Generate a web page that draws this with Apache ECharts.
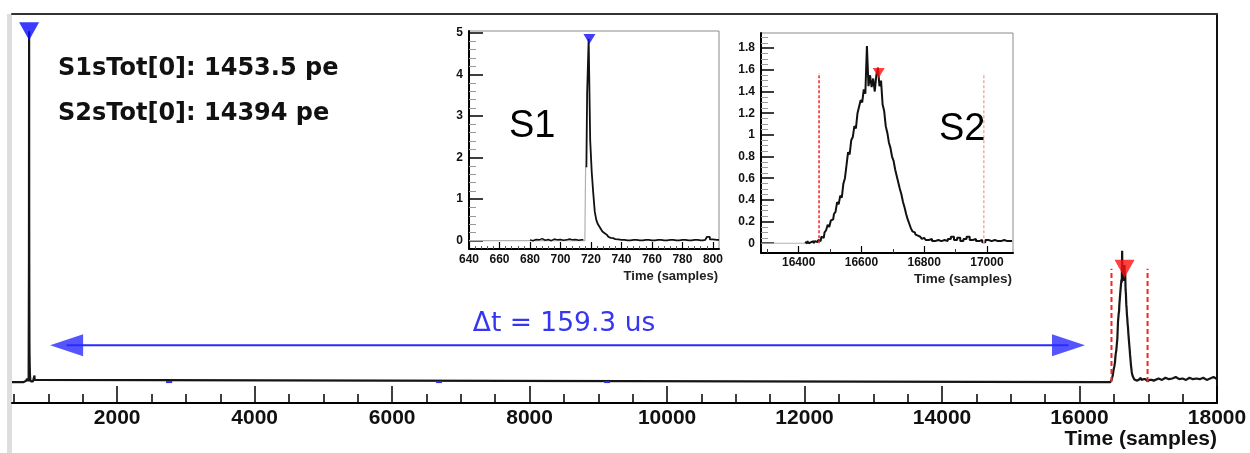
<!DOCTYPE html>
<html><head><meta charset="utf-8">
<script src="https://cdn.jsdelivr.net/npm/echarts@6/dist/echarts.min.js"></script>
<style>html,body{margin:0;padding:0;background:#fff;}#c{width:1250px;height:453px;}</style>
</head><body><div id="c"></div>
<script>
// ---------------- data ----------------
const mainRange = [470, 18000];
const mainYRange = [-0.29, 5.1];
const mainMajorTicks = [2000, 4000, 6000, 8000, 10000, 12000, 14000, 16000, 18000];
const mainMinorTicks = [500, 1000, 1500, 2500, 3000, 3500, 4500, 5000, 5500, 6500, 7000, 7500, 8500, 9000, 9500, 10500, 11000, 11500, 12500, 13000, 13500, 14500, 15000, 15500, 16500, 17000, 17500];

const s1Range = [640, 804];
const s1YRange = [-0.2, 5.05];
const s1XTicks = [640, 660, 680, 700, 720, 740, 760, 780, 800];
const s1XMinor = [644, 648, 652, 656, 664, 668, 672, 676, 684, 688, 692, 696, 704, 708, 712, 716, 724, 728, 732, 736, 744, 748, 752, 756, 764, 768, 772, 776, 784, 788, 792, 796];
const s1YTicks = [0, 1, 2, 3, 4, 5];
const s1YMinor = [0.2, 0.4, 0.6, 0.8, 1.2, 1.4, 1.6, 1.8, 2.2, 2.4, 2.6, 2.8, 3.2, 3.4, 3.6, 3.8, 4.2, 4.4, 4.6, 4.8];

const s2Range = [16280, 17083];
const s2YRange = [-0.09, 1.94];
const s2XTicks = [16400, 16600, 16800, 17000];
const s2XMinor = [16300, 16500, 16700, 16900];
const s2YTicks = [0, 0.2, 0.4, 0.6, 0.8, 1, 1.2, 1.4, 1.6, 1.8];
const s2YMinor = [0.05, 0.1, 0.15, 0.25, 0.3, 0.35, 0.45, 0.5, 0.55, 0.65, 0.7, 0.75, 0.85, 0.9, 0.95, 1.05, 1.1, 1.15, 1.25, 1.3, 1.35, 1.45, 1.5, 1.55, 1.65, 1.7, 1.75, 1.85, 1.9];

// S1 waveform (samples, pe)
const leadTimes = [470, 640];
const leadValues = [0, 0];
const s1BaseTimes = [640, 716, 717];
const s1BaseValues = [0, 0, 1.77];
const s1NoiseTimes = [680, 682, 684, 686, 688, 690, 692, 694, 696, 698, 700, 702, 704, 706, 708, 710, 712, 714, 715];
const s1NoiseValues = [0.02, 0.00, 0.03, 0.02, 0.05, 0.01, 0.03, 0.00, 0.04, 0.02, 0.03, 0.01, 0.02, 0.04, 0.02, 0.03, 0.01, 0.02, 0.02];
const s1PulseTimes = [717, 718, 719, 720, 721, 722, 723, 724, 725, 726, 727, 728, 729, 730, 731, 732, 733, 734, 735, 736, 738, 740, 744, 748, 752, 756, 760, 764, 768, 772, 776, 780, 784, 788, 792, 795, 797, 799, 801, 804];
const s1PulseValues = [1.77, 3.56, 4.86, 2.42, 1.66, 1.15, 0.70, 0.50, 0.40, 0.34, 0.28, 0.22, 0.18, 0.14, 0.11, 0.09, 0.07, 0.06, 0.05, 0.04, 0.03, 0.02, 0.01, 0.02, 0.01, 0.02, 0.01, 0.02, 0.01, 0.02, 0.01, 0.02, 0.01, 0.02, 0.01, 0.02, 0.09, 0.03, 0.02, 0.02];
const s1PeakTime = 719;
const s1PeakValue = 4.86;

// S2 waveform
const s2BaseTimes = [16280, 16420];
const s2BaseValues = [0, 0];
const s2Times = [16420, 16425, 16430, 16435, 16440, 16445, 16450, 16455, 16460, 16465,
  16470, 16475, 16480, 16485, 16490, 16495, 16500, 16505, 16510, 16515,
  16520, 16525, 16530, 16535, 16540, 16545, 16550, 16555, 16560, 16565,
  16570, 16575, 16580, 16585, 16590, 16595, 16600, 16605, 16610, 16615,
  16620, 16625, 16630, 16635, 16640, 16645, 16650, 16655, 16660, 16665,
  16670, 16675, 16680, 16685, 16690, 16695, 16700, 16705, 16710, 16715,
  16720, 16725, 16730, 16735, 16740, 16745, 16750, 16755, 16760, 16765,
  16770, 16775, 16780, 16785, 16790, 16795, 16800,
  16810, 16820, 16830, 16840, 16850, 16860, 16870, 16880, 16890, 16900,
  16910, 16920, 16930, 16940, 16950, 16960, 16970, 16980, 16990, 17000,
  17010, 17020, 17030, 17040, 17050, 17060, 17070, 17080];
const s2Values = [0.01, 0.00, 0.02, 0.00, 0.01, 0.02, 0.00, 0.02, 0.01, 0.03,
  0.02, 0.06, 0.05, 0.10, 0.12, 0.17, 0.15, 0.21, 0.22, 0.27,
  0.29, 0.38, 0.36, 0.44, 0.42, 0.55, 0.60, 0.72, 0.84, 0.82,
  0.95, 0.98, 1.08, 1.06, 1.20, 1.26, 1.32, 1.30, 1.42, 1.38,
  1.82, 1.45, 1.55, 1.44, 1.52, 1.40, 1.55, 1.62, 1.45, 1.50,
  1.28, 1.22, 1.08, 1.02, 0.93, 0.88, 0.80, 0.76, 0.68, 0.62,
  0.56, 0.50, 0.45, 0.38, 0.33, 0.27, 0.22, 0.18, 0.14, 0.11,
  0.10, 0.08, 0.07, 0.06, 0.07, 0.04, 0.05,
  0.03, 0.04, 0.02, 0.03, 0.02, 0.03, 0.02, 0.04, 0.06, 0.03,
  0.05, 0.02, 0.04, 0.06, 0.03, 0.04, 0.02, 0.03, 0.01, 0.03,
  0.02, 0.03, 0.02, 0.02, 0.03, 0.02, 0.02, 0.02];
const s2PeakTime = 16655;
const s2PeakValue = 1.57;
const s2WindowTimes = [16465, 16990];

// tail after S2 (main view only)
const tailTimes = [17100, 17150, 17200, 17250, 17300, 17350, 17400, 17450, 17500, 17550, 17600, 17650, 17700, 17750, 17800, 17850, 17900, 17950, 18000];
const tailValues = [0.04, 0.05, 0.03, 0.06, 0.04, 0.05, 0.07, 0.04, 0.05, 0.03, 0.06, 0.04, 0.05, 0.04, 0.06, 0.03, 0.05, 0.07, 0.04];

// small blue flagged segments on the baseline
const blueMarkStarts = [2710, 6640, 9085];
const blueMarkEnds = [2800, 6725, 9170];

// delta-t arrow (data space, arrowhead centres)
const arrowFrom = 1265;
const arrowTo = 15840;
const arrowLevel = 0.51;

// ---------------- chart ----------------
const pairs = (t, v) => t.map((x, i) => [x, v[i]]);
const F = 'Liberation Sans';
const fmt = v => String(+(+v).toFixed(2));
function ax(o) {
  return Object.assign({type: 'value', splitLine: {show: false}, axisLine: {show: false, onZero: false},
    axisTick: {show: false}, axisLabel: {show: false}, axisPointer: {show: false}}, o);
}
const blackLine = {show: true, onZero: false, lineStyle: {color: '#000', width: 2}};
const lbl = (vals, size, margin) => ({show: true, customValues: vals, formatter: fmt, margin: margin,
  fontSize: size, fontWeight: 'bold', fontFamily: F, color: '#111'});
const tick = (vals, len, color, w) => ({show: true, inside: true, length: len, customValues: vals,
  lineStyle: {color: color, width: w}});

const mainWave = [].concat(pairs(leadTimes, leadValues), pairs(s1NoiseTimes, s1NoiseValues),
  pairs(s1PulseTimes, s1PulseValues), pairs(s2BaseTimes, s2BaseValues), pairs(s2Times, s2Values),
  pairs(tailTimes, tailValues));

const BLUE = '#2a2aff';
const series = [];
const common = {symbol: 'none', silent: true, animation: false, emphasis: {disabled: true}};

// main
series.push(Object.assign({type: 'line', xAxisIndex: 0, yAxisIndex: 0, data: mainWave,
  lineStyle: {color: '#151515', width: 2.2}, z: 3}, common));
blueMarkStarts.forEach((s, i) => {
  series.push(Object.assign({type: 'line', xAxisIndex: 0, yAxisIndex: 0, data: [[s, 0], [blueMarkEnds[i], 0]],
    lineStyle: {color: BLUE, width: 2}, z: 4}, common));
});
// arrow shaft + heads
series.push(Object.assign({type: 'line', xAxisIndex: 0, yAxisIndex: 0, data: [[arrowFrom, arrowLevel], [arrowTo, arrowLevel]],
  lineStyle: {color: BLUE, width: 2}, z: 4}, common));
series.push({type: 'scatter', xAxisIndex: 0, yAxisIndex: 0, data: [[arrowFrom, arrowLevel]], symbol: 'triangle',
  symbolRotate: 90, symbolSize: [22, 33], itemStyle: {color: BLUE}, silent: true, animation: false, z: 5});
series.push({type: 'scatter', xAxisIndex: 0, yAxisIndex: 0, data: [[arrowTo, arrowLevel]], symbol: 'triangle',
  symbolRotate: -90, symbolSize: [22, 33], itemStyle: {color: BLUE}, silent: true, animation: false, z: 5});
s2WindowTimes.forEach(t => {
  series.push(Object.assign({type: 'line', xAxisIndex: 0, yAxisIndex: 0, data: [[t, 0], [t, s2PeakValue]],
    lineStyle: {color: '#ff2020', width: 2, type: [5, 3]}, z: 5}, common));
});
series.push({type: 'scatter', xAxisIndex: 0, yAxisIndex: 0, data: [[s1PeakTime, s1PeakValue]], symbol: 'triangle',
  symbolRotate: 180, symbolSize: [20, 18], itemStyle: {color: '#0a0aff'}, silent: true, animation: false, z: 6});
series.push({type: 'scatter', xAxisIndex: 0, yAxisIndex: 0, data: [[s2PeakTime, s2PeakValue]], symbol: 'triangle',
  symbolRotate: 180, symbolSize: [20, 18], itemStyle: {color: '#ff1010'}, silent: true, animation: false, z: 6});

// S1 inset
series.push(Object.assign({type: 'line', xAxisIndex: 3, yAxisIndex: 1, data: pairs(s1BaseTimes, s1BaseValues), step: 'middle',
  lineStyle: {color: '#b0b0b0', width: 1.2}, z: 3}, common));
series.push(Object.assign({type: 'line', xAxisIndex: 3, yAxisIndex: 1, data: pairs(s1NoiseTimes, s1NoiseValues), step: 'middle',
  lineStyle: {color: '#111', width: 1.5}, z: 4}, common));
series.push(Object.assign({type: 'line', xAxisIndex: 3, yAxisIndex: 1, data: pairs(s1PulseTimes, s1PulseValues), step: 'middle',
  lineStyle: {color: '#111', width: 1.8}, z: 4}, common));
series.push({type: 'scatter', xAxisIndex: 3, yAxisIndex: 1, data: [[s1PeakTime, s1PeakValue]], symbol: 'triangle',
  symbolRotate: 180, symbolSize: [12, 10], itemStyle: {color: '#1010ee'}, silent: true, animation: false, z: 6});

// S2 inset
series.push(Object.assign({type: 'line', xAxisIndex: 5, yAxisIndex: 3, data: pairs(s2BaseTimes, s2BaseValues),
  lineStyle: {color: '#b0b0b0', width: 1.2}, z: 3}, common));
series.push(Object.assign({type: 'line', xAxisIndex: 5, yAxisIndex: 3, data: pairs(s2Times, s2Values), step: 'middle',
  lineStyle: {color: '#111', width: 2}, z: 4}, common));
series.push(Object.assign({type: 'line', xAxisIndex: 5, yAxisIndex: 3, data: [[s2WindowTimes[0], 0], [s2WindowTimes[0], s2PeakValue]],
  lineStyle: {color: '#ff2020', width: 1.5, type: [3, 2]}, z: 5}, common));
series.push(Object.assign({type: 'line', xAxisIndex: 5, yAxisIndex: 3, data: [[s2WindowTimes[1], 0], [s2WindowTimes[1], s2PeakValue]],
  lineStyle: {color: '#f7a8a8', width: 1.5, type: [3, 2]}, z: 5}, common));
series.push({type: 'scatter', xAxisIndex: 5, yAxisIndex: 3, data: [[s2PeakTime, s2PeakValue]], symbol: 'triangle',
  symbolRotate: 180, symbolSize: [12, 10], itemStyle: {color: '#ff1010'}, silent: true, animation: false, z: 6});

const txt = (x, y, text, size, weight, family, color, align) => ({type: 'text', x: x, y: y, silent: true, z: 10,
  style: {text: text, fontSize: size, fontWeight: weight, fontFamily: family, fill: color,
    align: align || 'left', verticalAlign: 'middle', textAlign: align || 'left', textVerticalAlign: 'middle'}});

const option = {
  animation: false,
  backgroundColor: '#ffffff',
  grid: [
    {left: 12, top: 14, right: 33, bottom: 50, containLabel: false, outerBoundsMode: 'none'},
    {left: 469, top: 31, width: 250, height: 218, show: true, backgroundColor: '#fff', borderColor: '#8a8a8a', borderWidth: 1, containLabel: false, outerBoundsMode: 'none'},
    {left: 761, top: 33, width: 252, height: 220, show: true, backgroundColor: '#fff', borderColor: '#8a8a8a', borderWidth: 1, containLabel: false, outerBoundsMode: 'none'}
  ],
  xAxis: [
    ax({gridIndex: 0, min: mainRange[0], max: mainRange[1], position: 'bottom', axisLine: blackLine,
      axisTick: tick(mainMajorTicks, 17, '#000', 1.5), axisLabel: lbl(mainMajorTicks, 21, 5)}),
    ax({gridIndex: 0, min: mainRange[0], max: mainRange[1], position: 'bottom', axisTick: tick(mainMinorTicks, 9, '#000', 1.5)}),
    ax({gridIndex: 0, min: mainRange[0], max: mainRange[1], position: 'top',
      axisLine: {show: true, onZero: false, lineStyle: {color: '#333', width: 2}}}),
    ax({gridIndex: 1, min: s1Range[0], max: s1Range[1], position: 'bottom', axisLine: blackLine,
      axisTick: tick(s1XTicks, 7, '#000', 1.2), axisLabel: lbl(s1XTicks, 12, 5)}),
    ax({gridIndex: 1, min: s1Range[0], max: s1Range[1], position: 'bottom', axisTick: tick(s1XMinor, 3, '#555', 1)}),
    ax({gridIndex: 2, min: s2Range[0], max: s2Range[1], position: 'bottom', axisLine: blackLine,
      axisTick: tick(s2XTicks, 7, '#000', 1.2), axisLabel: lbl(s2XTicks, 12, 4)}),
    ax({gridIndex: 2, min: s2Range[0], max: s2Range[1], position: 'bottom', axisTick: tick(s2XMinor, 4, '#333', 1)})
  ],
  yAxis: [
    ax({gridIndex: 0, min: mainYRange[0], max: mainYRange[1], position: 'right',
      axisLine: {show: true, onZero: false, lineStyle: {color: '#111', width: 2}}}),
    ax({gridIndex: 1, min: s1YRange[0], max: s1YRange[1], position: 'left', axisLine: blackLine,
      axisTick: tick(s1YTicks, 14, '#000', 1.5), axisLabel: lbl(s1YTicks, 12, 6)}),
    ax({gridIndex: 1, min: s1YRange[0], max: s1YRange[1], position: 'left', axisTick: tick(s1YMinor, 7, '#9a9a9a', 1)}),
    ax({gridIndex: 2, min: s2YRange[0], max: s2YRange[1], position: 'left', axisLine: blackLine,
      axisTick: tick(s2YTicks, 13, '#000', 1.5), axisLabel: lbl(s2YTicks, 12, 6)}),
    ax({gridIndex: 2, min: s2YRange[0], max: s2YRange[1], position: 'left', axisTick: tick(s2YMinor, 7, '#9a9a9a', 1)})
  ],
  graphic: [
    {type: 'rect', silent: true, z: -1, shape: {x: 7, y: 14, width: 5, height: 439}, style: {fill: '#dedede'}},
    txt(58, 69, 'S1sTot[0]: 1453.5 pe', 24, 'bold', 'DejaVu Sans', '#111'),
    txt(58, 114, 'S2sTot[0]: 14394 pe', 24, 'bold', 'DejaVu Sans', '#111'),
    txt(564, 324, '\u0394t = 159.3 us', 26.5, 'normal', 'DejaVu Sans', '#3636f0', 'center'),
    txt(509, 127, 'S1', 38, 'normal', F, '#000'),
    txt(939, 130, 'S2', 38, 'normal', F, '#000'),
    txt(1217, 439, 'Time (samples)', 21, 'bold', F, '#111', 'right'),
    txt(718, 276, 'Time (samples)', 13, 'bold', F, '#222', 'right'),
    txt(1012, 279, 'Time (samples)', 13.5, 'bold', F, '#222', 'right')
  ],
  series: series
};
const chart = echarts.init(document.getElementById('c'), null, {renderer: 'canvas'});
chart.setOption(option);
</script>
</body></html>
